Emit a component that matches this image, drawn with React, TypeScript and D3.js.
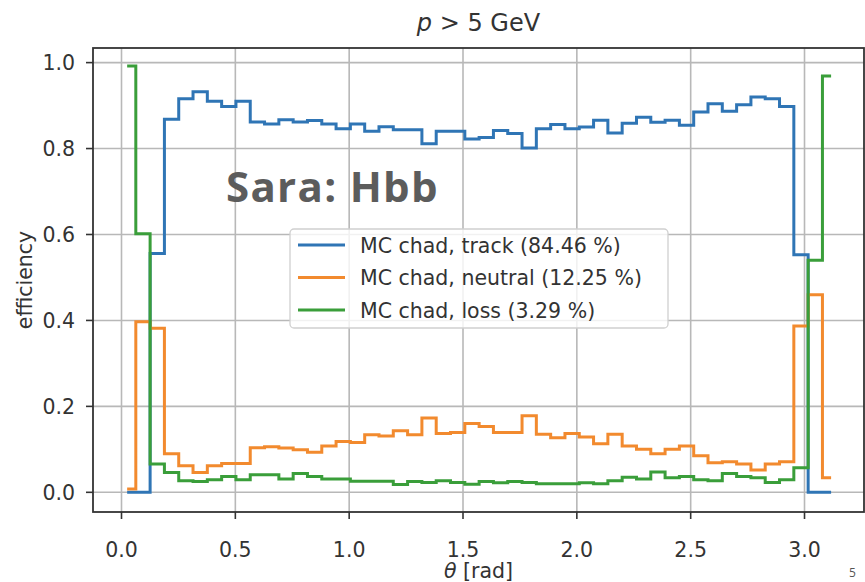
import React from "react";
import * as d3 from "d3";

const BIN_COUNT = 50;
const THETA_MAX = Math.PI;
const X_TICKS = [0, 0.5, 1.0, 1.5, 2.0, 2.5, 3.0];
const Y_TICKS = [0, 0.2, 0.4, 0.6, 0.8, 1.0];

const TRACK = [0, 0, 0.556, 0.868, 0.916, 0.932, 0.91, 0.898, 0.91, 0.862, 0.857, 0.867, 0.862, 0.865, 0.857, 0.846, 0.857, 0.84, 0.851, 0.844, 0.844, 0.811, 0.84, 0.84, 0.822, 0.826, 0.842, 0.835, 0.801, 0.846, 0.856, 0.846, 0.85, 0.866, 0.836, 0.859, 0.873, 0.861, 0.866, 0.854, 0.885, 0.904, 0.887, 0.902, 0.92, 0.916, 0.898, 0.553, 0, 0];
const NEUTRAL = [0.008, 0.397, 0.382, 0.09, 0.062, 0.046, 0.062, 0.067, 0.067, 0.104, 0.106, 0.103, 0.099, 0.093, 0.108, 0.118, 0.116, 0.134, 0.131, 0.143, 0.134, 0.173, 0.137, 0.139, 0.16, 0.153, 0.139, 0.139, 0.178, 0.135, 0.127, 0.137, 0.129, 0.113, 0.135, 0.108, 0.1, 0.09, 0.1, 0.108, 0.085, 0.069, 0.071, 0.066, 0.052, 0.066, 0.071, 0.387, 0.46, 0.034];
const LOSS = [0.992, 0.602, 0.066, 0.046, 0.027, 0.025, 0.029, 0.037, 0.029, 0.041, 0.041, 0.031, 0.044, 0.037, 0.031, 0.031, 0.026, 0.026, 0.026, 0.018, 0.025, 0.023, 0.027, 0.023, 0.019, 0.025, 0.022, 0.025, 0.023, 0.02, 0.02, 0.02, 0.022, 0.02, 0.027, 0.035, 0.031, 0.047, 0.034, 0.037, 0.029, 0.027, 0.044, 0.037, 0.034, 0.023, 0.029, 0.057, 0.54, 0.969];

const SERIES_NAMES = ["MC chad, track (84.46 %)", "MC chad, neutral (12.25 %)", "MC chad, loss (3.29 %)"];
const SERIES_COLORS = ["#2f75b5", "#f28a2e", "#3a9e3a"];

const W = 865;
const H = 582;
const LEFT = 93;
const RIGHT = 864;
const TOP = 48;
const BOTTOM = 512;
const FONT = "'DejaVu Sans', sans-serif";

export default function App() {
  const centers = d3.range(BIN_COUNT).map((i) => ((i + 0.5) * THETA_MAX) / BIN_COUNT);
  const x = d3.scaleLinear().domain([-0.1252, 3.2613]).range([LEFT, RIGHT]);
  const y = d3.scaleLinear().domain([-0.0458, 1.034]).range([BOTTOM, TOP]);
  const series = [TRACK, NEUTRAL, LOSS];
  const line = d3
    .line<number>()
    .x((_, i) => x(centers[i]))
    .y((d) => y(d))
    .curve(d3.curveStep);
  const fmt = d3.format(".1f");

  const legX = 290;
  const legY = 229;
  const legW = 378;
  const legH = 99;
  const rowGap = 32.5;

  return (
    <svg
      width={W}
      height={H}
      viewBox={`0 0 ${W} ${H}`}
      style={{ position: "absolute", left: 0, top: 0, background: "#fff" }}
    >
      <rect x={0} y={0} width={W} height={H} fill="#fff" />
      {/* grid */}
      <g stroke="#b8b8b8" strokeWidth={1.6}>
        {X_TICKS.map((t) => (
          <line key={"gx" + t} x1={x(t)} x2={x(t)} y1={TOP} y2={BOTTOM} />
        ))}
        {Y_TICKS.map((t) => (
          <line key={"gy" + t} x1={LEFT} x2={RIGHT} y1={y(t)} y2={y(t)} />
        ))}
      </g>
      {/* series */}
      <g fill="none" strokeWidth={3} strokeLinejoin="miter" strokeLinecap="square">
        {series.map((s, k) => (
          <path key={k} d={line(s) || ""} stroke={SERIES_COLORS[k]} />
        ))}
      </g>
      {/* frame */}
      <rect x={LEFT} y={TOP} width={RIGHT - LEFT} height={BOTTOM - TOP} fill="none" stroke="#333" strokeWidth={1.8} />
      {/* ticks */}
      <g stroke="#333" strokeWidth={1.6}>
        {X_TICKS.map((t) => (
          <line key={"tx" + t} x1={x(t)} x2={x(t)} y1={BOTTOM} y2={BOTTOM + 7} />
        ))}
        {Y_TICKS.map((t) => (
          <line key={"ty" + t} x1={LEFT - 7} x2={LEFT} y1={y(t)} y2={y(t)} />
        ))}
      </g>
      <g fontFamily={FONT} fontSize={20.5} fill="#333">
        {X_TICKS.map((t) => (
          <text key={"lx" + t} x={x(t)} y={557} textAnchor="middle">
            {fmt(t)}
          </text>
        ))}
        {Y_TICKS.map((t) => (
          <text key={"ly" + t} x={75} y={y(t) + 7.5} textAnchor="end">
            {fmt(t)}
          </text>
        ))}
        <text x={(LEFT + RIGHT) / 2} y={578} textAnchor="middle">
          <tspan fontStyle="italic">θ</tspan>
          <tspan> [rad]</tspan>
        </text>
        <text transform={`translate(32, ${(TOP + BOTTOM) / 2}) rotate(-90)`} textAnchor="middle">
          efficiency
        </text>
        <text x={(LEFT + RIGHT) / 2} y={31} textAnchor="middle" fontSize={24}>
          <tspan fontStyle="italic">p</tspan>
          <tspan> &gt; 5 GeV</tspan>
        </text>
      </g>
      {/* legend */}
      <g>
        <rect x={legX} y={legY} width={legW} height={legH} rx={4} ry={4} fill="#fff" fillOpacity={0.8} stroke="#d0d0d0" strokeWidth={1.3} />
        {SERIES_NAMES.map((name, k) => (
          <g key={name}>
            <line
              x1={legX + 8}
              x2={legX + 55}
              y1={legY + 16 + k * rowGap}
              y2={legY + 16 + k * rowGap}
              stroke={SERIES_COLORS[k]}
              strokeWidth={3}
            />
            <text x={legX + 70} y={legY + 23.5 + k * rowGap} fontFamily={FONT} fontSize={20.5} fill="#333">
              {name}
            </text>
          </g>
        ))}
      </g>
      {/* overlay annotation */}
      <text x={226} y={202} fontFamily="'Open Sans', sans-serif" fontWeight={700} fontSize={42} letterSpacing={1.3} fill="#5c5c5c">
        Sara: Hbb
      </text>
      <text x={849} y={577} fontFamily="'Open Sans', sans-serif" fontSize={12} fill="#555">
        5
      </text>
    </svg>
  );
}
